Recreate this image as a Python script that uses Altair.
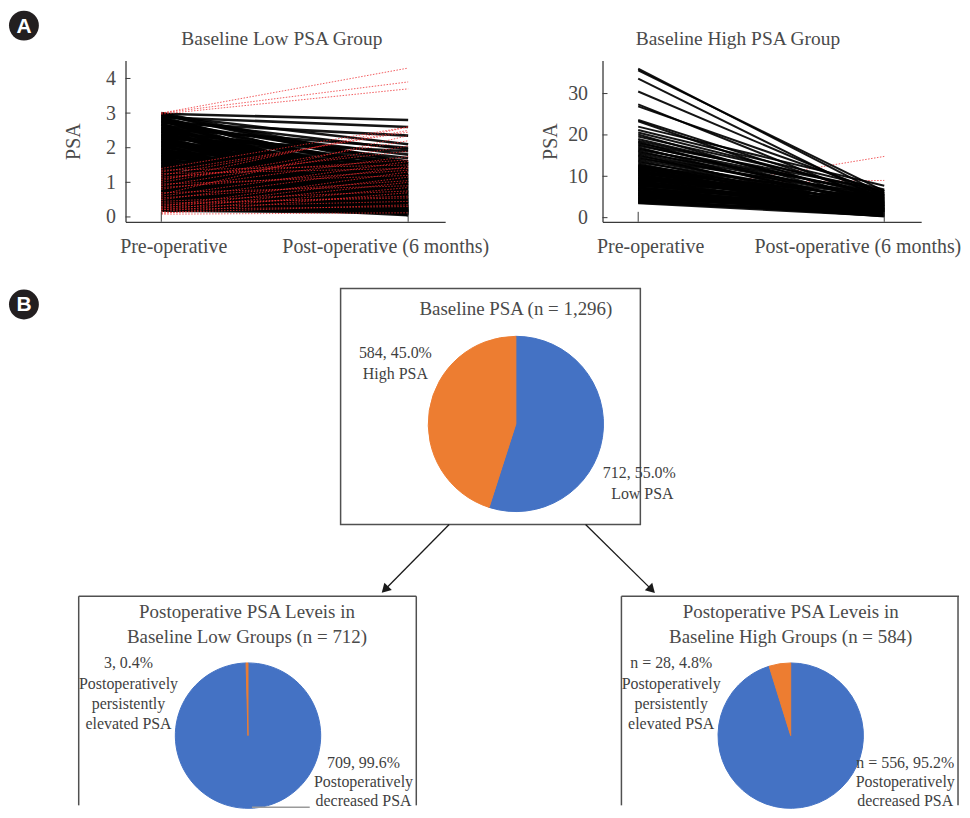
import altair as alt
import pandas as pd

SERIF = "Liberation Serif"
SANS = "Liberation Sans"
BLUE = "#4472c4"
ORANGE = "#ed7d31"
TXT = "#3f3f3f"
AX = "#3a3a3a"
RED = "#ee2a2e"

# page position of the first plot area's top-left corner (all annotation positions are page pixels)
OX, OY = 125, 58

stages = ["Pre-operative", "Post-operative (6 months)"]

# ---------------- Panel A: Baseline Low PSA Group (PSA pre -> post) ----------------
low_pre = [3.00, 2.98, 2.95, 2.93, 2.90, 2.88, 2.85, 2.83, 2.80, 2.78, 2.75, 2.72, 2.70, 2.68, 2.65,
           2.62, 2.60, 2.57, 2.55, 2.52, 2.50, 2.47, 2.45, 2.42, 2.40, 2.37, 2.35, 2.32, 2.30, 2.27,
           2.25, 2.22, 2.20, 2.17, 2.15, 2.12, 2.10, 2.07, 2.05, 2.02, 2.00, 1.97, 1.95, 1.92, 1.90,
           1.87, 1.85, 1.82, 1.80, 1.77, 1.75, 1.72, 1.70, 1.67, 1.65, 1.62, 1.60, 1.57, 1.55, 1.52,
           1.50, 1.47, 1.45, 1.42, 1.40, 1.37, 1.35, 1.32, 1.30, 1.27, 1.25, 1.22, 1.20, 1.17, 1.15,
           1.12, 1.10, 1.07, 1.05, 1.02, 1.00, 0.97, 0.95, 0.92, 0.90, 0.87, 0.85, 0.82, 0.80, 0.77,
           0.75, 0.72, 0.70, 0.67, 0.65, 0.62, 0.60, 0.57, 0.55, 0.52, 0.50, 0.47, 0.45, 0.42, 0.40,
           0.37, 0.35, 0.32, 0.30, 0.27, 0.25, 0.22, 0.20, 0.18,
           2.96, 2.86, 2.76, 2.66, 2.56, 2.46, 2.36, 2.26, 2.16, 2.06, 1.96, 1.86, 1.76, 1.66, 1.56,
           1.46, 1.36, 1.26, 1.16, 1.06, 0.96, 0.86, 0.76, 0.66, 0.56, 0.46, 0.36, 0.26]
low_post = [1.55, 2.80, 1.40, 2.10, 0.90, 2.60, 1.20, 0.40, 1.95, 0.70, 1.60, 2.35, 0.25, 1.10, 1.80,
            0.55, 1.35, 0.08, 2.00, 0.95, 1.50, 0.30, 1.70, 0.75, 1.25, 0.15, 1.05, 1.55, 0.50, 1.90,
            0.85, 1.30, 0.20, 1.45, 0.65, 1.15, 0.05, 1.60, 0.40, 1.00, 1.40, 0.60, 0.12, 1.25, 0.80,
            1.55, 0.35, 1.10, 0.50, 1.45, 0.90, 0.22, 1.30, 0.70, 1.00, 0.10, 1.50, 0.45, 0.85, 1.20,
            0.30, 0.65, 1.05, 0.15, 1.35, 0.55, 0.90, 0.07, 1.15, 0.40, 0.75, 1.00, 0.25, 0.60, 1.20,
            0.12, 0.85, 0.45, 0.70, 0.20, 0.95, 0.50, 0.06, 0.80, 0.35, 0.65, 0.15, 0.55, 0.75, 0.28,
            0.45, 0.10, 0.60, 0.35, 0.20, 0.50, 0.08, 0.40, 0.25, 0.45, 0.12, 0.35, 0.20, 0.30, 0.05,
            0.25, 0.15, 0.22, 0.10, 0.18, 0.20, 0.15, 0.17, 0.12,
            1.48, 0.62, 1.32, 0.18, 1.02, 0.82, 1.18, 0.28, 0.92, 1.38, 0.48, 0.72, 1.08, 0.33, 0.58,
            1.12, 0.24, 0.68, 0.98, 0.38, 0.52, 0.78, 0.14, 0.42, 0.32, 0.27, 0.19, 0.16]
# increasing cases (red dashed)
low_up_pre = [3.00, 3.00, 2.97, 1.40, 1.20, 1.30, 1.05, 0.65, 1.00, 0.90, 1.10, 0.80, 0.60, 1.15,
              0.50, 0.85, 1.35, 1.25, 0.30, 0.95, 0.25, 0.55, 0.20, 0.70, 0.15, 0.45, 0.10, 0.35,
              0.40, 0.28, 0.12, 0.22, 0.08]
low_up_post = [4.30, 3.90, 3.70, 2.60, 2.50, 2.45, 2.60, 2.35, 2.20, 2.05, 1.90, 1.75, 1.60, 1.65,
               1.45, 1.35, 1.50, 1.40, 1.30, 1.20, 1.15, 1.05, 1.00, 0.90, 0.85, 0.75, 0.70, 0.60,
               0.55, 0.45, 0.35, 0.30, 0.12]

# ---------------- Panel A: Baseline High PSA Group ----------------
high_pre = [36.0, 35.6, 33.6, 30.5, 27.4, 26.9, 23.6, 23.3, 22.0, 21.2, 20.6, 20.1, 19.6, 19.0, 18.6,
            18.3, 18.0, 17.7, 17.4, 17.0, 16.7, 16.4, 16.1, 15.8, 15.5, 15.2, 14.9, 14.6, 14.3, 14.0,
            13.7, 13.4, 13.1, 12.8, 12.5, 12.3, 12.1, 11.9, 11.7, 11.5, 11.3, 11.1, 10.9, 10.7, 10.5,
            10.3, 10.1, 9.9, 9.7, 9.5, 9.3, 9.1, 8.9, 8.7, 8.5, 8.3, 8.1, 7.9, 7.7, 7.5, 7.3, 7.1,
            6.9, 6.7, 6.5, 6.3, 6.1, 5.9, 5.7, 5.5, 5.3, 5.1, 4.9, 4.7, 4.5, 4.3, 4.1, 3.9, 3.7, 3.5,
            12.6, 12.0, 11.4, 10.8, 10.2, 9.6, 9.0, 8.4, 7.8, 7.2, 6.6, 6.0, 5.4, 4.8, 4.2, 3.6]
high_post = [5.5, 6.4, 4.2, 5.2, 3.6, 6.0, 4.6, 2.8, 7.7, 6.8, 5.8, 3.2, 6.3, 4.9, 5.3,
             2.2, 6.6, 3.9, 5.6, 1.5, 4.4, 6.0, 2.9, 5.0, 3.4, 1.0, 4.7, 2.4, 5.5, 3.7,
             1.8, 4.1, 0.8, 3.0, 5.1, 2.0, 4.4, 1.2, 3.5, 0.6, 2.7, 4.8, 1.6, 3.9, 0.9,
             2.3, 4.2, 1.4, 3.2, 0.5, 2.6, 4.6, 1.1, 3.7, 0.7, 2.1, 3.0, 1.7, 4.0, 0.4, 2.5, 1.3,
             3.4, 0.8, 2.2, 1.0, 2.9, 0.5, 1.9, 1.2, 3.1, 0.6, 2.4, 1.5, 0.3, 2.0, 1.1, 0.7, 1.6, 0.4,
             1.9, 3.3, 0.9, 2.8, 1.3, 3.6, 0.6, 2.2, 1.8, 0.5, 2.7, 1.4, 0.8, 2.1, 0.4, 1.0]
high_up_pre = [5.0, 3.8, 8.2]
high_up_post = [14.8, 4.8, 9.0]

# ---------------- Panel B: pie data ----------------
base_cats = ["Low PSA", "High PSA"]
base_counts = [712, 584]
low_cats = ["Low decreased", "Low elevated"]
low_counts = [709, 3]
high_cats = ["High decreased", "High elevated"]
high_counts = [556, 28]

color_scale = alt.Scale(domain=base_cats + low_cats + high_cats,
                        range=[BLUE, ORANGE, BLUE, ORANGE, BLUE, ORANGE])


def long_df(pre, post, tag):
    rows = []
    for i, (a, b) in enumerate(zip(pre, post)):
        rows.append({"id": f"{tag}{i}", "t": 0, "psa": a})
        rows.append({"id": f"{tag}{i}", "t": 1, "psa": b})
    return pd.DataFrame(rows)


def txt(s, x, y, size=16, color=TXT, font=SERIF, weight="normal"):
    return alt.Chart(pd.DataFrame({"s": [s]})).mark_text(
        font=font, fontSize=size, color=color, fontWeight=weight, align="center", baseline="middle"
    ).encode(text="s:N", x=alt.value(x - OX), y=alt.value(y - OY))


def seg(x1, y1, x2, y2, color="#1a1a1a", w=1.3):
    return alt.Chart(pd.DataFrame({"k": [0]})).mark_rule(color=color, strokeWidth=w).encode(
        x=alt.value(x1 - OX), y=alt.value(y1 - OY), x2=alt.value(x2 - OX), y2=alt.value(y2 - OY))


def head(x, y, ang):
    return alt.Chart(pd.DataFrame({"k": [0]})).mark_point(
        shape="triangle-up", filled=True, color="#1a1a1a", opacity=1, size=110, angle=ang
    ).encode(x=alt.value(x - OX), y=alt.value(y - OY))


def badge(letter, x, y):
    c = alt.Chart(pd.DataFrame({"k": [0]})).mark_point(
        shape="circle", filled=True, color="#231f20", opacity=1, size=900
    ).encode(x=alt.value(x - OX), y=alt.value(y - OY))
    t = txt(letter, x, y + 1, size=21, color="white", font=SANS, weight="bold")
    return [c, t]


def pie(cats, vals, cx, cy, r):
    df = pd.DataFrame({"cat": cats, "val": vals, "ord": list(range(len(cats)))})
    return alt.Chart(df).mark_arc(radius=r, strokeWidth=1).encode(
        theta=alt.Theta("val:Q", stack=True),
        color=alt.Color("cat:N", scale=color_scale, legend=None),
        stroke=alt.Stroke("cat:N", scale=color_scale, legend=None),
        order=alt.Order("ord:Q"),
        x=alt.value(cx - OX), y=alt.value(cy - OY))


def spaghetti(pre, post, up_pre, up_post, ydom, yvals, lw, lab_pad, title_pad, offs, red_on_top):
    H = 162
    xs = alt.Scale(domain=[-0.145, 1.15], nice=False, zero=False)
    ys = alt.Scale(domain=ydom, nice=False, zero=False)
    xaxis = alt.Axis(
        values=[0, 1],
        labelExpr=f"datum.value < 0.5 ? '{stages[0]}' : '{stages[1]}'",
        title=None, grid=False, ticks=False, tickSize=0, domainColor=AX, domainWidth=1.3,
        labelFont=SERIF, labelFontSize=20, labelColor="#4a4a4a", labelPadding=15, labelLimit=0,
        labelFlush=False, labelOverlap=False, labelBound=False,
        labelOffset={"condition": {"test": "datum.value < 0.5", "value": offs[0]}, "value": offs[1]},
    )
    yaxis = alt.Axis(
        values=yvals, title="PSA", grid=False, ticks=False, tickSize=0, domainColor=AX,
        domainWidth=1.3, labelFont=SERIF, labelFontSize=20, labelColor="#4a4a4a",
        labelPadding=lab_pad, titleFont=SERIF, titleFontSize=20, titleFontWeight="normal",
        titleColor="#4a4a4a", titlePadding=title_pad,
    )
    X = alt.X("t:Q", scale=xs, axis=xaxis)
    Y = alt.Y("psa:Q", scale=ys, axis=yaxis)
    black = alt.Chart(long_df(pre, post, "b")).mark_line(
        color="#000000", strokeWidth=lw, opacity=0.92
    ).encode(x=X, y=Y, detail="id:N")
    red = alt.Chart(long_df(up_pre, up_post, "r")).mark_line(
        color=RED, strokeWidth=0.9, strokeDash=[1.5, 1.5], opacity=0.85
    ).encode(x=X, y=Y, detail="id:N")
    ytick = pd.DataFrame({"psa": yvals})
    yt = alt.Chart(ytick).mark_rule(color=AX, strokeWidth=1).encode(
        y=Y, x=alt.value(0), x2=alt.value(5))
    xt = alt.Chart(pd.DataFrame({"t": [0, 1]})).mark_rule(color=AX, strokeWidth=1).encode(
        x=X, y=alt.value(H), y2=alt.value(H - 10))
    if red_on_top:
        return [black, red, yt, xt]
    return [red, black, yt, xt]


# ---- left spaghetti + everything positioned around it ----
low_layers = spaghetti(low_pre, low_post, low_up_pre, low_up_post, [-0.14, 4.52],
                       [0, 1, 2, 3, 4], 2.6, 10, 22, (12, -23), True)
low_layers.append(txt("Baseline Low PSA Group", 282, 36, size=19.5, color="#4a4a4a"))
low_layers += badge("A", 23, 23)
low_layers += badge("B", 23, 303)

# Panel B: top box
low_layers.append(
    alt.Chart(pd.DataFrame({"k": [0]})).mark_rect(fillOpacity=0, stroke="#505050", strokeWidth=1.5)
    .encode(x=alt.value(341 - OX), x2=alt.value(642 - OX), y=alt.value(287 - OY), y2=alt.value(524 - OY))
)
low_layers.append(pie(base_cats, base_counts, 517, 423, 88))
low_layers.append(txt("Baseline PSA (n = 1,296)", 517, 308, size=19, color="#4a4a4a"))
low_layers.append(txt("584, 45.0%", 396, 352))
low_layers.append(txt("High PSA", 396, 373))
low_layers.append(txt("712, 55.0%", 641, 472))
low_layers.append(txt("Low PSA", 644, 493))

# arrows
low_layers.append(seg(450, 524, 387.6, 587.3))
low_layers.append(head(385.5, 589.4, 224.6))
low_layers.append(seg(587, 524, 651.3, 587.4))
low_layers.append(head(653.4, 589.5, 135.4))

# bottom-left box (open at bottom, cut by the page edge)
BOT = 806
low_layers.append(seg(78, 596, 417, 596, "#505050", 1.5))
low_layers.append(seg(78, 596, 78, BOT, "#505050", 1.5))
low_layers.append(seg(417, 596, 417, BOT, "#505050", 1.5))
low_layers.append(pie(low_cats, low_counts, 248, 736, 73))
low_layers.append(seg(252, 808, 310, 808, "#9a9a9a", 1.5))
low_layers.append(txt("Postoperative PSA Leveis in", 247, 612, size=19, color="#4a4a4a"))
low_layers.append(txt("Baseline Low Groups (n = 712)", 247, 637, size=19, color="#4a4a4a"))
for s, y in [("3, 0.4%", 663), ("Postoperatively", 684), ("persistently", 704), ("elevated PSA", 724)]:
    low_layers.append(txt(s, 128, y))
for s, y in [("709, 99.6%", 763), ("Postoperatively", 783), ("decreased PSA", 802)]:
    low_layers.append(txt(s, 364, y))

# bottom-right box
low_layers.append(seg(623, 596, 962, 596, "#505050", 1.5))
low_layers.append(seg(623, 596, 623, BOT, "#505050", 1.5))
low_layers.append(seg(961, 596, 961, BOT, "#505050", 1.5))
low_layers.append(pie(high_cats, high_counts, 793, 736, 73))
low_layers.append(txt("Postoperative PSA Leveis in", 793, 612, size=19, color="#4a4a4a"))
low_layers.append(txt("Baseline High Groups (n = 584)", 793, 637, size=19, color="#4a4a4a"))
for s, y in [("n = 28, 4.8%", 663), ("Postoperatively", 684), ("persistently", 704), ("elevated PSA", 724)]:
    low_layers.append(txt(s, 673, y))
for s, y in [("n = 556, 95.2%", 763), ("Postoperatively", 783), ("decreased PSA", 802)]:
    low_layers.append(txt(s, 908, y))

low_chart = alt.layer(*low_layers).properties(width=321, height=162).resolve_scale(theta="independent")

# ---- right spaghetti ----
HX = 604  # page x of right plot area
high_layers = spaghetti(high_pre, high_post, high_up_pre, high_up_post, [-1, 38],
                        [0, 10, 20, 30], 2.0, 15, 7, (12, -27), False)
high_layers.append(
    alt.Chart(pd.DataFrame({"s": ["Baseline High PSA Group"]})).mark_text(
        font=SERIF, fontSize=19.5, color="#4a4a4a", align="center", baseline="middle"
    ).encode(text="s:N", x=alt.value(740 - HX), y=alt.value(36 - OY))
)
high_chart = alt.layer(*high_layers).properties(width=320, height=162)

chart = alt.hconcat(low_chart, high_chart, spacing=158, bounds="flush").properties(
    padding=0
).configure_view(stroke="transparent")

chart.save("out.html", embed_options={"renderer": "svg", "actions": False})
